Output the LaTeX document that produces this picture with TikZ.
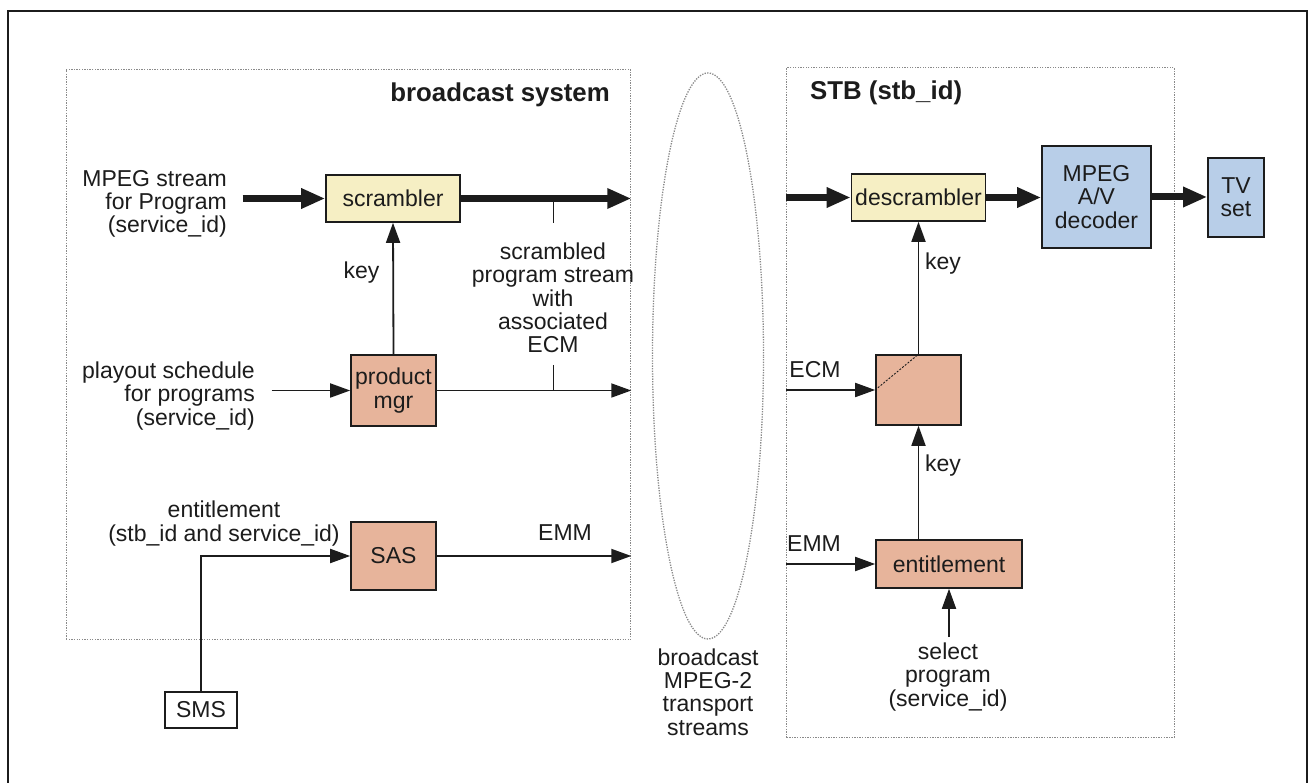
\documentclass[tikz,border=0pt]{standalone}
\usepackage{fontspec}
\setmainfont{Liberation Sans}
\usetikzlibrary{arrows.meta,shapes.geometric}
\definecolor{yel}{HTML}{F6EFC4}
\definecolor{sal}{HTML}{E7B49B}
\definecolor{blu}{HTML}{B8CEE8}
\definecolor{ink}{HTML}{1C1C1C}
\definecolor{dotc}{HTML}{8A8A8A}
\newcommand\lbl{\fontsize{23}{23.3}\selectfont}
\newcommand\ttl{\fontsize{25.8}{27}\selectfont\bfseries}
\begin{document}
\begin{tikzpicture}[x=1pt,y=-1pt,
  every node/.style={text=ink, font=\lbl, inner sep=0pt},
  box/.style={draw=ink, line width=1.6pt, align=center, inner sep=0pt},
  thinarr/.style={draw=ink, line width=1.8pt, -{Triangle[length=20pt,width=14pt]}},
  thickarr/.style={draw=ink, line width=7pt, -{Triangle[length=24pt,width=19pt]}},
  dotbox/.style={draw=dotc, line width=1.3pt, dash pattern=on 1.3pt off 1.3pt},
  tick/.style={draw=ink, line width=1.5pt}]
\useasboundingbox (0,0) rectangle (1310,783);
\fill[white] (0,0) rectangle (1310,783);
% outer frame
\draw[ink, line width=2pt] (8,795) -- (8,11.5) -- (1306.5,11.5) -- (1306.5,795);

% dotted containers
\node[dotbox, minimum width=564.5pt, minimum height=570pt, anchor=north west] (bsys) at (65.5,69) {};
\node[dotbox, minimum width=387.5pt, minimum height=670pt, anchor=north west] (stb) at (786,67) {};
\node[dotbox, ellipse, minimum width=111pt, minimum height=566pt] (tsell) at (708,356) {};

% titles
\node[anchor=east, font=\ttl] (bsyst) at (610,95) {broadcast system};
\node[anchor=west, font=\ttl] (stbt) at (810,93) {STB (stb\_id)};

% boxes
\node[box, fill=yel, minimum width=134pt, minimum height=47pt] (scr) at (393,198.5) {scrambler};
\node[box, fill=sal, minimum width=85pt, minimum height=71pt] (prod) at (393.5,390.5) {product\\mgr};
\node[box, fill=sal, minimum width=85pt, minimum height=68pt] (sas) at (393.5,556) {SAS};
\node[box, fill=white, minimum width=72pt, minimum height=36pt] (sms) at (201,710) {SMS};
\node[box, fill=yel, minimum width=134pt, minimum height=47pt] (descr) at (918.5,197.5) {descrambler};
\node[box, fill=blu, minimum width=109pt, minimum height=102pt] (dec) at (1096.5,197) {MPEG\\A/V\\decoder};
\node[box, fill=blu, minimum width=56pt, minimum height=79pt] (tv) at (1236,197.5) {TV\\set};
\node[box, fill=sal, minimum width=85pt, minimum height=70pt] (ecmb) at (918.5,390) {};
\node[box, fill=sal, minimum width=146pt, minimum height=48pt] (ent) at (949,564) {entitlement};

% labels
\node[anchor=east, align=right] (mpeglab) at (227,204) {MPEG stream\\for Program\\(service\_id)};
\node[anchor=east, align=right] (playlab) at (255,396) {playout schedule\\for programs\\(service\_id)};
\node[align=center] (entlab) at (224,523.5) {entitlement\\(stb\_id and service\_id)};
\node (key1) at (361.5,273) {key};
\node[align=center] (scrlab) at (553,298) {scrambled\\program stream\\with\\associated\\ECM};
\node (emm1) at (565,533) {EMM};
\node[align=center] (tslab) at (708,692) {broadcast\\MPEG-2\\transport\\streams};
\node (ecml) at (815,370) {ECM};
\node (emml) at (814,544) {EMM};
\node (key2) at (943,264) {key};
\node (key3) at (943,466) {key};
\node[align=center] (sellab) at (948,677) {select\\program\\(service\_id)};

% free ends
\coordinate (mpegin) at (242.5,198.5);
\coordinate (playin) at (271.5,390.5);
\coordinate (selin) at (949,637);
\coordinate (tk1) at (553.5,222.7);
\coordinate (tk2) at (553.5,365);

% broadcast side
\draw[thickarr] (mpegin) -- (scr.west);
\draw[thickarr] (scr.east) -- (scr.east -| bsys.east);
\draw[thinarr] (playin) -- (prod.west);
\draw[thinarr] (prod.east) -- (prod.east -| bsys.east);
\draw[thinarr] (prod.north) -- (scr.south);
\draw[thinarr] (sms.north) |- (sas.west);
\draw[thinarr] (sas.east) -- (sas.east -| bsys.east);
\draw[tick] (tk1) -- (tk1 |- scr.east);
\draw[tick] (tk2) -- (tk2 |- prod.east);

% STB side
\draw[thickarr] (stb.west |- descr.west) -- (descr.west);
\draw[thickarr] (descr.east) -- (descr.east -| dec.west);
\draw[thickarr] (dec.east) -- (dec.east -| tv.west);
\draw[thinarr] (ecmb.north) -- (descr.south);
\draw[thinarr] (stb.west |- ecmb.west) -- (ecmb.west);
\draw[ink, line width=0.9pt, dash pattern=on 2pt off 1.5pt] (ecmb.west) -- (ecmb.north);
\draw[thinarr] (ent.north -| ecmb.south) -- (ecmb.south);
\draw[thinarr] (stb.west |- ent.west) -- (ent.west);
\draw[thinarr] (selin) -- (ent.south);
\end{tikzpicture}
\end{document}
